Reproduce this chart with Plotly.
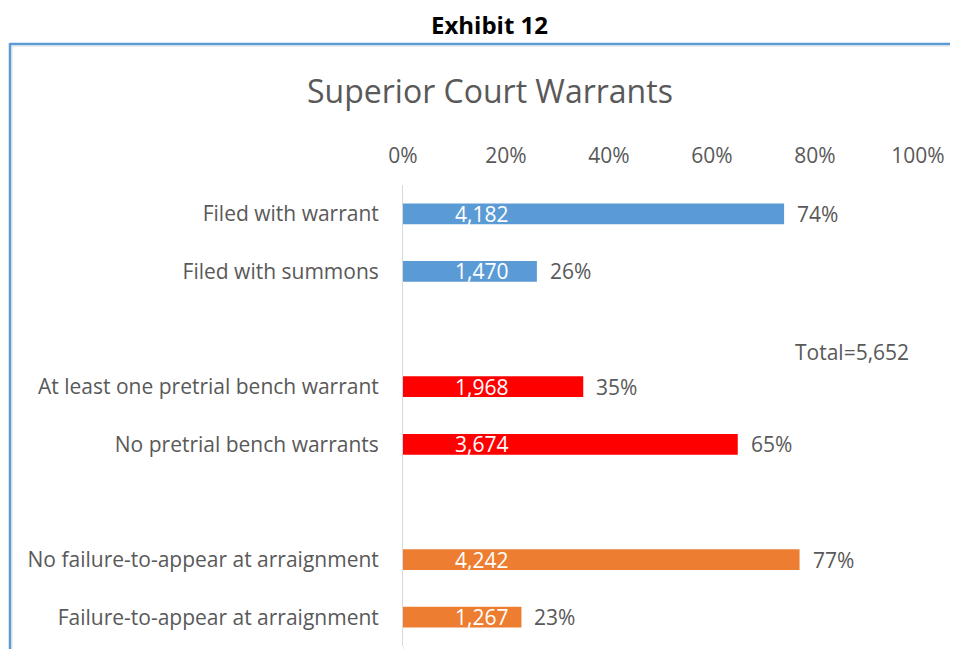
import plotly.graph_objects as go

# ---- data ----
categories = ["Filed with warrant", "Filed with summons", " ",
              "At least one pretrial bench warrant", "No pretrial bench warrants", "  ",
              "No failure-to-appear at arraignment", "Failure-to-appear at arraignment"]
bar_labels = ["Filed with warrant", "Filed with summons",
              "At least one pretrial bench warrant", "No pretrial bench warrants",
              "No failure-to-appear at arraignment", "Failure-to-appear at arraignment"]
counts = [4182, 1470, 1968, 3674, 4242, 1267]
percents = [74, 26, 35, 65, 77, 23]
bar_colors = ["#5B9BD5", "#5B9BD5", "#FF0000", "#FF0000", "#ED7D31", "#ED7D31"]
total_label = "Total=5,652"
tick_vals = [0, 20, 40, 60, 80, 100]
tick_text = ["0%", "20%", "40%", "60%", "80%", "100%"]

OFF = 8  # page body margin
W, H = 958 - OFF, 649 - OFF
ML, MT = 403 - OFF, 185 - OFF
MR = W - ML - 515
MB = 3
FONT = "Open Sans"
GRAY = "#595959"
FS = 21

def px_x(p):
    return (p - OFF - ML) / (W - ML - MR)

def px_y(p):
    return (H - MB - (p - OFF)) / (H - MT - MB)

fig = go.Figure()
fig.add_trace(go.Bar(
    y=bar_labels, x=percents, orientation="h",
    marker=dict(color=bar_colors, line=dict(width=0)),
    hoverinfo="skip", showlegend=False,
))

annotations = []
for lab, c, p in zip(bar_labels, counts, percents):
    annotations.append(dict(x=15.3, y=lab, xref="x", yref="y", text=f"{c:,}",
                            showarrow=False, xanchor="center", yanchor="middle",
                            font=dict(family=FONT, size=FS, color="white")))
    annotations.append(dict(x=p, y=lab, xref="x", yref="y", text=f"{p}%",
                            showarrow=False, xanchor="left", yanchor="middle", xshift=11,
                            font=dict(family=FONT, size=FS, color=GRAY)))
annotations.append(dict(x=px_x(911), y=px_y(352), xref="paper", yref="paper",
                        text=total_label, showarrow=False, xanchor="right", yanchor="middle",
                        font=dict(family=FONT, size=FS, color=GRAY)))
annotations.append(dict(x=px_x(490), y=px_y(90), xref="paper", yref="paper",
                        text="Superior Court Warrants", showarrow=False,
                        xanchor="center", yanchor="middle",
                        font=dict(family=FONT, size=32, color=GRAY)))
annotations.append(dict(x=px_x(489), y=px_y(25), xref="paper", yref="paper",
                        text="<b>Exhibit 12</b>", showarrow=False,
                        xanchor="center", yanchor="middle",
                        font=dict(family=FONT, size=24, color="black")))

shapes = [
    dict(type="line", xref="paper", yref="paper", x0=px_x(10), x1=px_x(970),
         y0=px_y(44), y1=px_y(44), line=dict(color="#5B9BD5", width=2.5)),
    dict(type="line", xref="paper", yref="paper", x0=px_x(10), x1=px_x(10),
         y0=px_y(43), y1=px_y(660), line=dict(color="#5B9BD5", width=2.5)),
    dict(type="line", xref="paper", yref="paper", x0=px_x(12), x1=px_x(970),
         y0=px_y(46), y1=px_y(46), line=dict(color="#D9D9D9", width=1)),
    dict(type="line", xref="paper", yref="paper", x0=px_x(12), x1=px_x(12),
         y0=px_y(46), y1=px_y(660), line=dict(color="#D9D9D9", width=1)),
    # continuation of the category axis line to the bottom edge
    dict(type="line", xref="x", yref="paper", x0=0, x1=0,
         y0=0, y1=px_y(660), line=dict(color="#D9D9D9", width=1)),
]

fig.update_layout(
    width=W, height=H,
    margin=dict(l=ML, r=MR, t=MT, b=MB, pad=0),
    paper_bgcolor="white", plot_bgcolor="white",
    bargap=0.64,
    annotations=annotations, shapes=shapes,
    xaxis=dict(range=[0, 100], side="top", tickvals=tick_vals, ticktext=tick_text,
               showgrid=False, zeroline=False, showline=False, ticks="",
               ticklabelstandoff=17,
               tickfont=dict(family=FONT, size=FS, color=GRAY)),
    yaxis=dict(type="category", categoryorder="array", categoryarray=categories,
               autorange="reversed", showgrid=False, zeroline=False,
               showline=True, linecolor="#D9D9D9", linewidth=1, ticks="",
               ticklabelstandoff=19,
               tickfont=dict(family=FONT, size=FS, color=GRAY)),
    font=dict(family=FONT, color=GRAY),
)

fig.write_html("out.html")
